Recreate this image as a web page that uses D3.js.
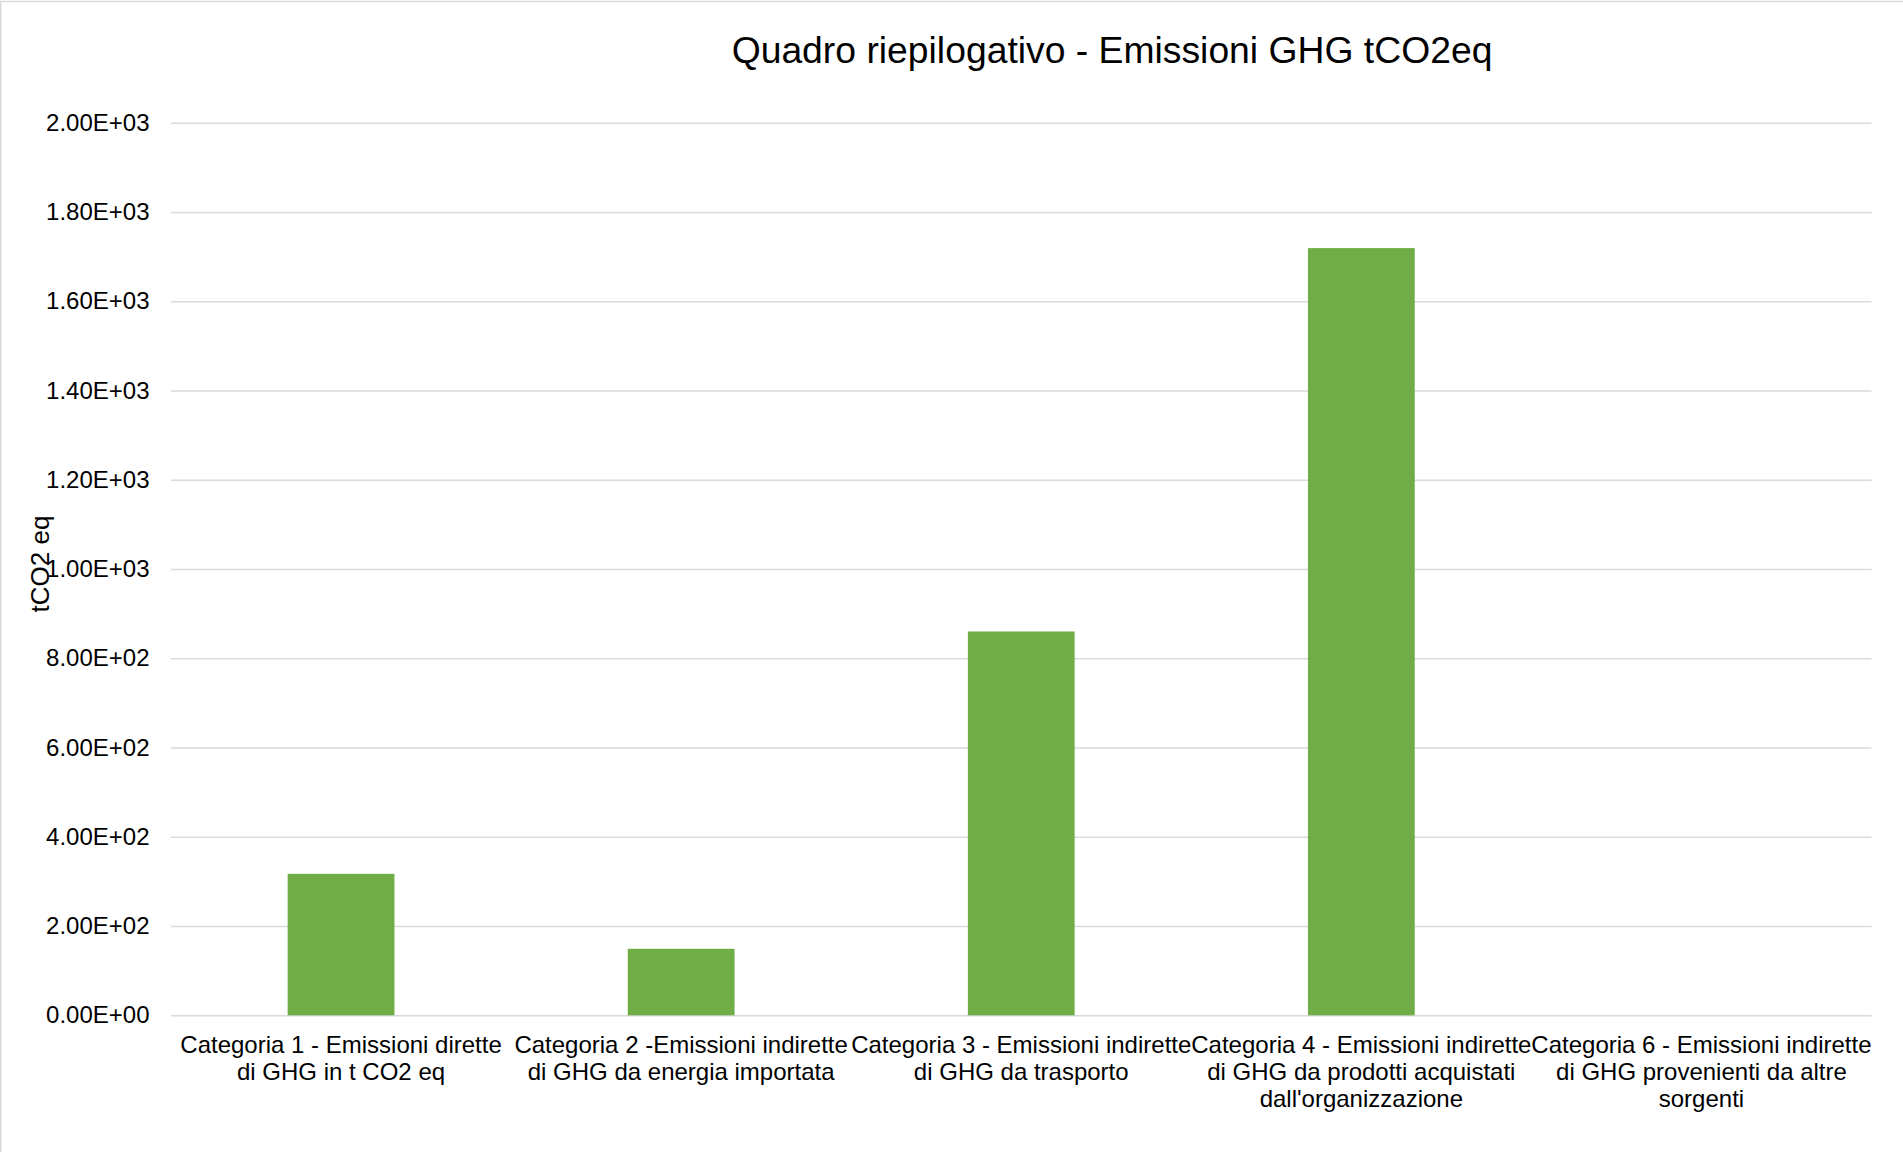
<!DOCTYPE html>
<html>
<head>
<meta charset="utf-8">
<script src="https://cdnjs.cloudflare.com/ajax/libs/d3/7.8.5/d3.min.js"></script>
<style>
  html, body { margin: 0; padding: 0; background: #fff; }
  svg { display: block; font-family: "Liberation Sans", Arial, sans-serif; }
</style>
</head>
<body>
<svg id="chart" width="1903" height="1152"></svg>
<script>
// Emission categories (each label split into its display lines)
const categories = [
  ["Categoria 1 - Emissioni dirette", "di GHG in t CO2 eq"],
  ["Categoria 2 -Emissioni indirette", "di GHG da energia importata"],
  ["Categoria 3 - Emissioni indirette", "di GHG da trasporto"],
  ["Categoria 4 - Emissioni indirette", "di GHG da prodotti acquistati", "dall'organizzazione"],
  ["Categoria 6 - Emissioni indirette", "di GHG provenienti da altre", "sorgenti"]
];
// Emissions in tCO2eq per category
const emissions = [317, 149, 860, 1719, 0];
const yTicks = [0, 200, 400, 600, 800, 1000, 1200, 1400, 1600, 1800, 2000];
const yTickLabels = ["0.00E+00", "2.00E+02", "4.00E+02", "6.00E+02", "8.00E+02", "1.00E+03",
                     "1.20E+03", "1.40E+03", "1.60E+03", "1.80E+03", "2.00E+03"];
const titleText = "Quadro riepilogativo - Emissioni GHG tCO2eq";
const yTitle = "tCO2 eq";

const svg = d3.select("#chart");
const W = 1903, H = 1152;
const plot = { left: 171, right: 1871.5, top: 122.7, bottom: 1015.3 };

// chart area frame
svg.append("rect")
  .attr("x", 0.75).attr("y", 1.5)
  .attr("width", W + 10).attr("height", H + 10)
  .attr("fill", "#fff").attr("stroke", "#d9d9d9").attr("stroke-width", 1.5);

const x = d3.scaleBand()
  .domain(d3.range(categories.length))
  .range([plot.left, plot.right])
  .paddingInner(0.686)
  .paddingOuter(0.343);

const y = d3.scaleLinear()
  .domain([0, 2000])
  .range([plot.bottom, plot.top]);

// value axis with gridlines
const yAxis = svg.append("g")
  .attr("transform", `translate(${plot.left},0)`)
  .call(d3.axisLeft(y)
    .tickValues(yTicks)
    .tickFormat((d, i) => yTickLabels[i])
    .tickSize(-(plot.right - plot.left))
    .tickPadding(21.5));
yAxis.select(".domain").remove();
yAxis.selectAll(".tick line").attr("stroke", "#d9d9d9").attr("stroke-width", 1.6);
yAxis.selectAll(".tick text")
  .attr("fill", "#000")
  .style("font-size", "24px")
  .style("font-family", "'Liberation Sans', Arial, sans-serif");

// bars
svg.append("g").selectAll("rect")
  .data(emissions)
  .join("rect")
  .attr("x", (d, i) => x(i))
  .attr("width", x.bandwidth())
  .attr("y", d => y(d))
  .attr("height", d => y(0) - y(d))
  .attr("fill", "#70ad47");

// category labels
const catG = svg.append("g");
categories.forEach((lines, i) => {
  const t = catG.append("text")
    .attr("text-anchor", "middle")
    .attr("fill", "#000")
    .style("font-size", "24px");
  lines.forEach((ln, j) => {
    t.append("tspan")
      .attr("x", x(i) + x.bandwidth() / 2)
      .attr("y", 1053.3 + j * 27)
      .text(ln);
  });
});

// title
svg.append("text")
  .attr("x", 1112).attr("y", 63)
  .attr("text-anchor", "middle")
  .attr("fill", "#000")
  .style("font-size", "37.3px")
  .text(titleText);

// value axis title
svg.append("text")
  .attr("transform", "translate(49,564) rotate(-90)")
  .attr("text-anchor", "middle")
  .attr("fill", "#000")
  .style("font-size", "26px")
  .text(yTitle);
</script>
</body>
</html>
